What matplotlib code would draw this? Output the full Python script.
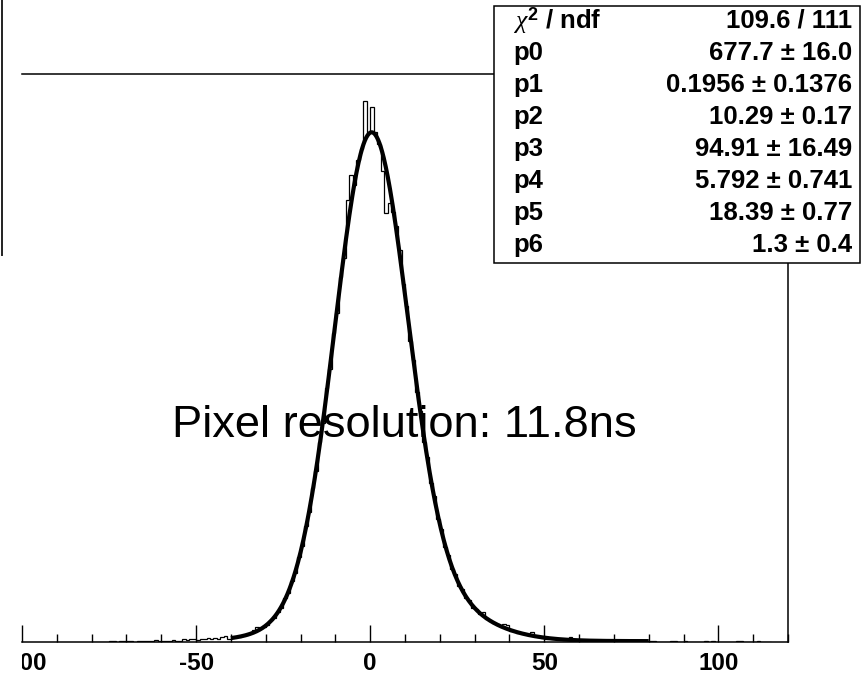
import numpy as np
import matplotlib.pyplot as plt
from matplotlib.patches import Rectangle
from matplotlib.lines import Line2D
from matplotlib.transforms import Bbox, TransformedBbox

plt.rcParams['font.family'] = ['Liberation Sans', 'DejaVu Sans']
plt.rcParams['axes.unicode_minus'] = False
plt.rcParams['mathtext.fontset'] = 'custom'
plt.rcParams['mathtext.rm'] = 'Liberation Sans'
plt.rcParams['mathtext.bf'] = 'Liberation Sans:bold'
plt.rcParams['mathtext.it'] = 'Liberation Serif:italic'

# Time difference histogram, 1 ns bins starting at -80
hist_start = -80
counts = [
    0, 0, 0, 0, 0,                                            # -80 .. -76
    1, 1, 0, 1, 2, 1, 1, 0, 1, 1, 2, 1, 1, 3, 2,              # -75 .. -61
    2, 1, 2, 3, 2, 2, 4, 3, 5, 4, 3, 5, 4, 6, 5,              # -60 .. -46
    6, 4, 8, 9, 5, 6, 7, 8, 10, 11, 13, 18, 22, 21, 23,       # -45 .. -31
    26, 33, 37, 46, 52, 66, 74, 92, 104, 128,                 # -30 .. -21
    145, 175, 196, 233, 258, 302, 331, 384, 412, 466,         # -20 .. -11
    497, 552, 580, 668, 705, 690, 728, 745, 817, 768,         # -10 .. -1
    808, 770, 752, 712, 648, 663, 650, 628, 592, 540,         # 0 .. 9
    508, 455, 426, 378, 349, 302, 279, 240, 220, 186,         # 10 .. 19
    170, 143, 131, 110, 102, 85, 80, 66, 63, 52,              # 20 .. 29
    50, 42, 45, 34, 32, 28, 27, 24, 27, 26,                   # 30 .. 39
    17, 16, 13, 14, 12, 10, 15, 9, 8, 6,                      # 40 .. 49
    5, 6, 5, 4, 4, 3, 4, 8, 3, 3,                             # 50 .. 59
    2, 2, 2, 2, 2, 1, 2, 1, 1, 2,                             # 60 .. 69
    1, 1, 1, 2, 1, 1, 0, 1, 0, 1,                             # 70 .. 79
    1, 1, 0, 0, 0, 0, 1, 1, 0, 0,                             # 80 .. 89
    1, 0, 0, 0, 0, 0, 1, 0, 1, 0,                             # 90 .. 99
    0, 0, 0, 0, 0, 1, 1, 0, 0, 0,                             # 100 .. 109
    0, 1, 0, 0, 0,                                            # 110 .. 114
]

# double gaussian + constant fit result
par_names = ['p0', 'p1', 'p2', 'p3', 'p4', 'p5', 'p6']
par_vals = [677.7, 0.1956, 10.29, 94.91, 5.792, 18.39, 1.3]
par_errs = ['16.0', '0.1376', '0.17', '16.49', '0.741', '0.77', '0.4']
par_fmt = ['677.7', '0.1956', '10.29', '94.91', '5.792', '18.39', '1.3']
chi2_text = '109.6 / 111'
fit_range = (-40, 80)
resolution_text = 'Pixel resolution: 11.8ns'

W, H = 862, 674


def px(x, y):
    return x / W, 1 - y / H


def fitfunc(x, p):
    return (p[0] * np.exp(-0.5 * ((x - p[1]) / p[2]) ** 2)
            + p[3] * np.exp(-0.5 * ((x - p[4]) / p[5]) ** 2) + p[6])


counts = np.array(counts, dtype=float)
edges = hist_start + np.arange(len(counts) + 1)

fig = plt.figure(figsize=(W / 100, H / 100), dpi=100)
ax = fig.add_axes([22 / W, 1 - 642 / H, (788 - 22) / W, (642 - 74) / H])

ax.stairs(counts, edges, color='black', lw=0.9)
xf = np.linspace(fit_range[0], fit_range[1], 600)
ax.plot(xf, fitfunc(xf, par_vals), color='black', lw=3.0, solid_capstyle='butt')

ax.set_xlim(-100, 120)
ax.set_ylim(0, 1.05 * counts.max())

for s in ['top', 'right', 'bottom']:
    ax.spines[s].set_linewidth(1.1)
ax.spines['left'].set_visible(False)
ax.set_yticks([])
ax.set_xticks([-100, -50, 0, 50, 100])
ax.set_xticks(np.arange(-100, 121, 10), minor=True)
ax.tick_params(axis='x', which='major', direction='in', length=12, width=1, pad=7,
               labelsize=17.5)
ax.tick_params(axis='x', which='minor', direction='in', length=6, width=1)

# labels stop at the left edge of the frame
clip = TransformedBbox(Bbox([[22 / W, 0], [1, 1]]), fig.transFigure)
for lab in ax.get_xticklabels():
    lab.set_fontweight('bold')
    lab.set_clip_box(clip)
    lab.set_clip_on(True)

# stray pad border on the left
x0, y0 = px(2, 0)
x1, y1 = px(2, 255)
fig.add_artist(Line2D([x0, x1], [y0, y1], color='#222222', lw=1.4))

# fit statistics box
bx0, by0 = px(494, 263)
bx1, by1 = px(860, 6)
fig.add_artist(Rectangle((bx0, by0), bx1 - bx0, by1 - by0, transform=fig.transFigure,
                         facecolor='white', edgecolor='black', lw=1.1, zorder=5))

rows = [(r'$\chi^{\mathbf{2}}$ / ndf', chi2_text)]
for name, v, e in zip(par_names, par_fmt, par_errs):
    rows.append((name, f'{v} ± {e}'))
for i, (left, right) in enumerate(rows):
    yc = 21 + 32 * i
    fig.text(*px(513, yc), left, ha='left', va='center', fontsize=18.5,
             fontweight='bold', zorder=6)
    fig.text(*px(852, yc), right, ha='right', va='center', fontsize=18.5,
             fontweight='bold', zorder=6)

fig.text(*px(172, 437), resolution_text, ha='left', va='baseline', fontsize=32.6)

fig.savefig('out.png', dpi=100)
